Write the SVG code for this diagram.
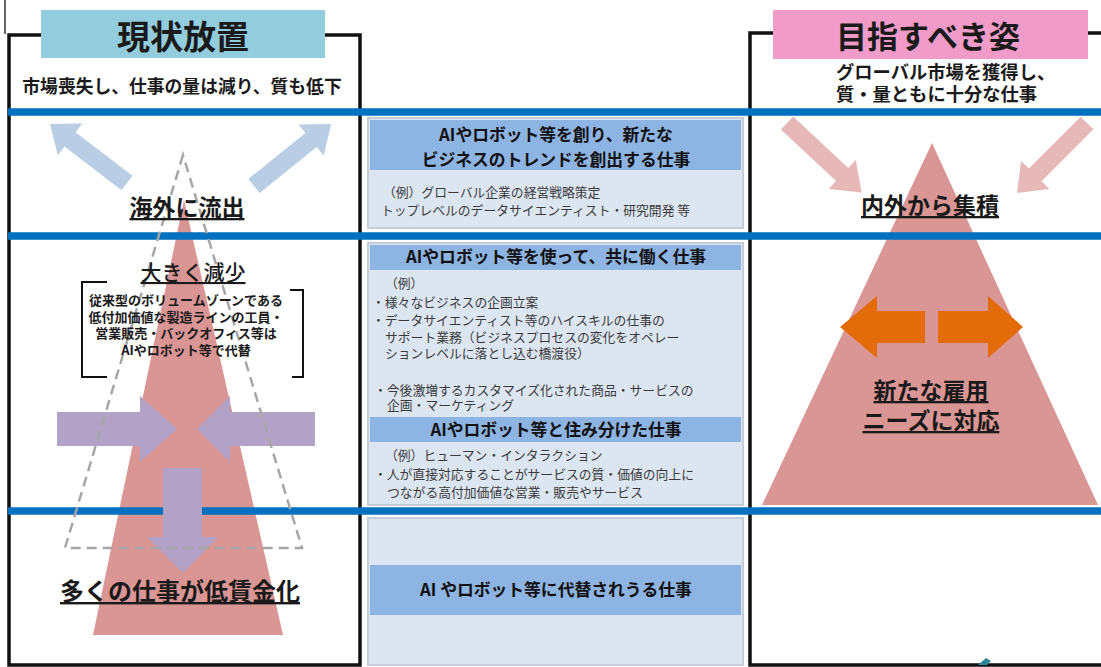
<svg xmlns="http://www.w3.org/2000/svg" width="1101" height="667" viewBox="0 0 1101 667">
<defs>
<style>
text{font-family:"Noto Sans CJK JP","Noto Sans CJK SC",sans-serif;fill:#1a1a1a}
.b{font-weight:700}
.c{text-anchor:middle}
.hd{font-size:16.8px;font-weight:700;text-anchor:middle;fill:#111}
.bd{font-size:12.8px;fill:#3a3a3a}
.u{text-decoration:underline}
.frame{fill:none;stroke:#111;stroke-width:3.5}
.band{fill:#8DB4E2}
.box{fill:#DCE6F2;stroke:#C5CDD8;stroke-width:2}
.blue{stroke:#0070C0;stroke-width:7.5}
.tri{fill:#DA9694}
.parr{fill:#B3A2C7}
</style>
<path id="arr" d="M0,-9 H74 V-20 L100,0 L74,20 V9 H0 Z"/>
</defs>
<rect width="1101" height="667" fill="#fff"/>

<g id="left-panel">
  <line x1="5" y1="0" x2="5" y2="34" stroke="#333" stroke-width="1.5"/>
  <path class="frame" d="M42,35 H9 V665 H360 V35 H325"/>
  <rect x="41" y="10" width="284" height="48" fill="#93CDDD"/>
  <text class="b c" x="183" y="49" font-size="33">現状放置</text>
  <text class="b c" x="182" y="93" font-size="17.8">市場喪失し、仕事の量は減り、質も低下</text>
</g>

<g id="right-panel">
  <path class="frame" d="M773,33 H750 V665 H1101 M1088,33 H1101"/>
  <rect x="773" y="10" width="315" height="49" fill="#F09BC8"/>
  <text class="b c" x="928" y="48" font-size="31">目指すべき姿</text>
  <text class="b" x="836" y="79" font-size="18.3">グローバル市場を獲得し、</text>
  <text class="b" x="836" y="101" font-size="18.3">質・量ともに十分な仕事</text>
</g>

<g id="box-create">
  <rect class="box" x="368" y="118" width="375" height="110"/>
  <rect class="band" x="370" y="120" width="371" height="50"/>
  <text class="hd" x="556" y="141" font-size="16.4">AIやロボット等を創り、新たな</text>
  <text class="hd" x="556" y="166" font-size="16.4">ビジネスのトレンドを創出する仕事</text>
  <text class="bd" x="383" y="197" font-size="12.5">（例）グローバル企業の経営戦略策定</text>
  <text class="bd" x="381" y="215" font-size="12.5">トップレベルのデータサイエンティスト・研究開発 等</text>
</g>

<g id="box-cowork">
  <rect class="box" x="368" y="243" width="375" height="262"/>
  <rect class="band" x="370" y="245" width="371" height="25"/>
  <text class="hd" x="556" y="263">AIやロボット等を使って、共に働く仕事</text>
  <text class="bd" x="385" y="288">（例）</text>
  <text class="bd" x="372" y="307">・様々なビジネスの企画立案</text>
  <text class="bd" x="372" y="325">・データサイエンティスト等のハイスキルの仕事の</text>
  <text class="bd" x="385" y="342">サポート業務（ビジネスプロセスの変化をオペレー</text>
  <text class="bd" x="385" y="358">ションレベルに落とし込む橋渡役）</text>
  <text class="bd" x="374" y="395">・今後激増するカスタマイズ化された商品・サービスの</text>
  <text class="bd" x="387" y="410">企画・マーケティング</text>
  <rect class="band" x="370" y="417" width="371" height="25"/>
  <text class="hd" x="556" y="436">AIやロボット等と住み分けた仕事</text>
  <text class="bd" x="385" y="460">（例）ヒューマン・インタラクション</text>
  <text class="bd" x="374" y="479">・人が直接対応することがサービスの質・価値の向上に</text>
  <text class="bd" x="387" y="497">つながる高付加価値な営業・販売やサービス</text>
</g>

<g id="box-replace">
  <rect class="box" x="368" y="518" width="375" height="147"/>
  <rect class="band" x="370" y="565" width="371" height="50"/>
  <text class="hd" x="556" y="596">AI やロボット等に代替されうる仕事</text>
</g>

<g id="left-shapes">
  <polygon class="tri" points="184,200 93,635 283,635"/>
</g>

<g id="right-shapes">
  <polygon class="tri" points="932,143 762,505 1098,505"/>
</g>

<g id="connectors">
  <line class="blue" x1="8" y1="112" x2="1101" y2="112"/>
  <line class="blue" x1="8" y1="236" x2="1101" y2="236"/>
  <line class="blue" x1="8" y1="511" x2="1101" y2="511"/>
  <use href="#arr" fill="#B9CDE5" transform="translate(127,183) rotate(-142.5) scale(0.97,1)"/>
  <use href="#arr" fill="#B9CDE5" transform="translate(254,186) rotate(-38.8) scale(0.99,1)"/>
  <use href="#arr" fill="#E6B9B8" transform="translate(787,123) rotate(43) scale(1.02,1)"/>
  <use href="#arr" fill="#E6B9B8" transform="translate(1087,123) rotate(135) scale(0.99,1)"/>
  <path class="parr" d="M57,412 H140 V396 L177,429 L140,462 V446 H57 Z"/>
  <path class="parr" d="M315,412 H230 V396 L197,429 L230,462 V446 H315 Z"/>
  <path class="parr" d="M163,468 H202 V537 H218 L183,573 L147,537 H163 Z"/>
  <path fill="#E36C09" d="M925,311 H877 V296 L840,327 L877,358 V343 H925 Z"/>
  <path fill="#E36C09" d="M938,311 H988 V296 L1023,327 L988,358 V343 H938 Z"/>
  <path fill="#31859C" d="M978,665 L986,658 L991,661 L987,665 Z"/>
</g>

<g id="dashed-outline">
  <polygon points="183,155 65,548 302,548" fill="none" stroke="#A6A6A6" stroke-width="2.5" stroke-dasharray="10,6"/>
</g>

<g id="left-labels">
  <text class="b c u" x="187" y="216" font-size="23">海外に流出</text>
  <text class="c u" x="193" y="280" font-size="21" font-weight="500">大きく減少</text>
  <path d="M107,282 H82 V377 H107 M290,290 H303 V377 H292" fill="none" stroke="#111" stroke-width="2"/>
  <text class="b c" x="186" y="305" font-size="13">従来型のボリュームゾーンである</text>
  <text class="b c" x="186" y="322" font-size="13">低付加価値な製造ラインの工員・</text>
  <text class="b c" x="186" y="338" font-size="13">営業販売・バックオフィス等は</text>
  <text class="b c" x="186" y="355" font-size="13">AIやロボット等で代替</text>
  <text class="b c u" x="180" y="600" font-size="24">多くの仕事が低賃金化</text>
</g>

<g id="right-labels">
  <text class="b c u" x="930" y="214" font-size="23">内外から集積</text>
  <text class="b c u" x="931" y="399" font-size="23">新たな雇用</text>
  <text class="b c u" x="931" y="429" font-size="23">ニーズに対応</text>
</g>
</svg>
